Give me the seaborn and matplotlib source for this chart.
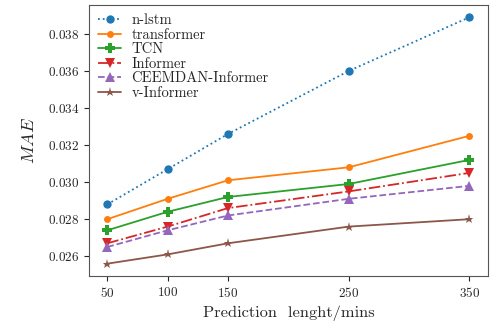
import numpy as np
import pandas as pd
import seaborn as sns
import matplotlib.pyplot as plt

# lunghezze di previsione (minuti)
pred_len = [50, 100, 150, 250, 350]

# MAE per modello
n_lstm = [0.0288, 0.0307, 0.0326, 0.0360, 0.0389]
transformer = [0.0280, 0.0291, 0.0301, 0.0308, 0.0325]
tcn = [0.0274, 0.0284, 0.0292, 0.0299, 0.0312]
informer = [0.0267, 0.0276, 0.0286, 0.0295, 0.0305]
ceemdan_informer = [0.0265, 0.0274, 0.0282, 0.0291, 0.0298]
v_informer = [0.0256, 0.0261, 0.0267, 0.0276, 0.0280]

models = ["n-lstm", "transformer", "TCN", "Informer", "CEEMDAN-Informer", "v-Informer"]
series = [n_lstm, transformer, tcn, informer, ceemdan_informer, v_informer]

# tabella long-form per seaborn
df = pd.DataFrame({
    "len": pred_len * len(models),
    "mae": np.concatenate(series),
    "model": np.repeat(models, len(pred_len)),
})

sns.set_style("ticks")
plt.rcParams['font.family'] = ['cmr10', 'DejaVu Serif']
plt.rcParams['mathtext.fontset'] = 'cm'
plt.rcParams['axes.formatter.use_mathtext'] = True

colors = sns.color_palette("tab10", 6)
markers = ["o", "o", "P", "v", "^", "*"]
styles = [":", "-", "-", "-.", "--", "-"]
msizes = [6, 5, 7, 6.5, 6.5, 6.5]

fig, ax = plt.subplots(figsize=(4.9, 3.27), dpi=100)
for i, m in enumerate(models):
    sns.lineplot(data=df[df["model"] == m], x="len", y="mae", ax=ax, label=m,
                 color=colors[i], marker=markers[i], linestyle=styles[i],
                 markersize=msizes[i], markeredgewidth=0, linewidth=1.3)

ax.set_xticks(pred_len)
ax.set_yticks([0.026, 0.028, 0.030, 0.032, 0.034, 0.036, 0.038])
ax.tick_params(labelsize=9.5)
ax.set_xlabel("Prediction  lenght/mins", fontsize=11.8)
ax.set_ylabel("$MAE$", fontsize=13, labelpad=8)
for s in ax.spines.values():
    s.set_color("#555555")

ax.legend(loc="upper left", frameon=False, fontsize=10.5, handlelength=1.6,
          labelspacing=0.05, borderaxespad=0.2, handletextpad=0.7)

fig.subplots_adjust(left=0.182, right=0.995, top=0.985, bottom=0.156)
plt.savefig("out.png", dpi=100)
